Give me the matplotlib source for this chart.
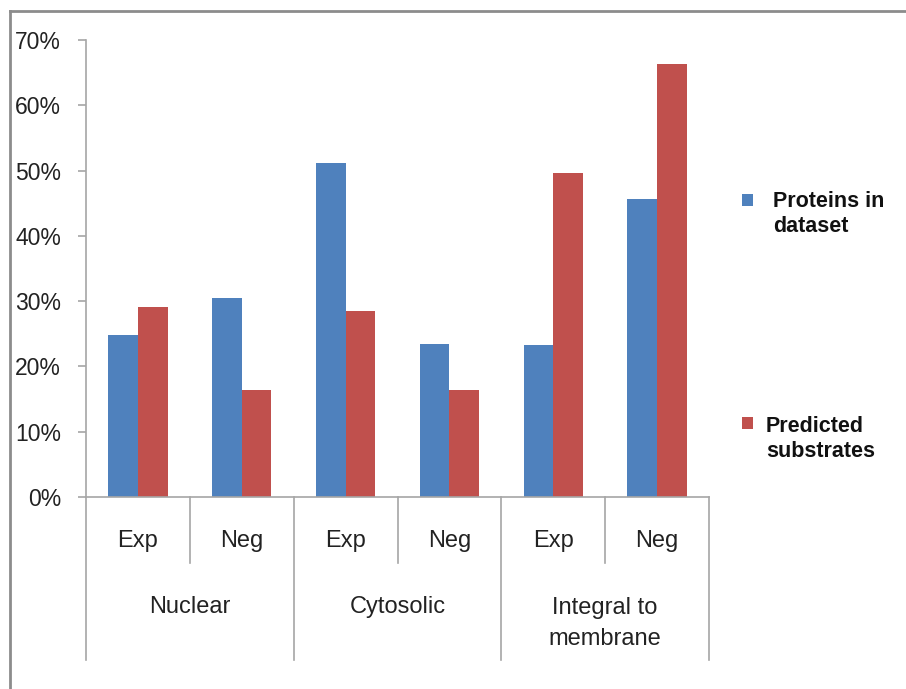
import matplotlib
matplotlib.use("Agg")
import matplotlib.pyplot as plt
from matplotlib.lines import Line2D
from matplotlib.patches import Rectangle
import numpy as np

plt.rcParams['font.family'] = ['Liberation Sans', 'DejaVu Sans']

groups = ["Nuclear", "Cytosolic", "Integral to\nmembrane"]
subcats = ["Exp", "Neg", "Exp", "Neg", "Exp", "Neg"]
series_names = ["Proteins in\ndataset", "Predicted\nsubstrates"]
proteins = [0.248, 0.305, 0.511, 0.234, 0.233, 0.457]
predicted = [0.291, 0.164, 0.285, 0.164, 0.497, 0.663]
yticks = [0, 0.1, 0.2, 0.3, 0.4, 0.5, 0.6, 0.7]
ytick_labels = ["0%", "10%", "20%", "30%", "40%", "50%", "60%", "70%"]

colors = ["#4F81BD", "#C0504D"]
axis_col = "#A6A6A6"
txt_col = "#222222"

W, H = 906, 689
fig = plt.figure(figsize=(W / 100, H / 100), dpi=100)
ax = fig.add_axes([86 / W, 1 - 497 / H, (709 - 86) / W, (497 - 40) / H])

x = np.arange(len(subcats)) + 0.5
bw = 0.285
ax.bar(x - bw / 2, proteins, bw, color=colors[0], linewidth=0)
ax.bar(x + bw / 2, predicted, bw, color=colors[1], linewidth=0)

ax.set_xlim(0, len(subcats))
ax.set_ylim(0, 0.70)
ax.set_yticks(yticks)
ax.set_yticklabels(ytick_labels, fontsize=16.5, color=txt_col)
ax.tick_params(axis='y', length=6, width=1.2, color=axis_col, pad=12)
ax.set_xticks([])
for s in ["top", "right"]:
    ax.spines[s].set_visible(False)
ax.spines["left"].set_visible(False)
ax.spines["bottom"].set_color(axis_col)
ax.spines["bottom"].set_linewidth(1.2)

tr = ax.get_xaxis_transform()
# y axis line extended down through category area
ax.plot([0, 0], [1.0, -0.357], transform=tr, color=axis_col, lw=1.2, clip_on=False)
# sub-category dividers
for i in range(1, len(subcats) + 1):
    if i % 2 == 1:
        ax.plot([i, i], [0, -0.1444], transform=tr, color=axis_col, lw=1.2, clip_on=False)
    else:
        ax.plot([i, i], [0, -0.357], transform=tr, color=axis_col, lw=1.2, clip_on=False)
for xi, lab in zip(x, subcats):
    ax.text(xi, -0.096, lab, transform=tr, ha='center', va='center',
            fontsize=17, color=txt_col)
for gi, g in enumerate(groups):
    ax.text(2 * gi + 1, -0.241 if "\n" not in g else -0.277, g, transform=tr,
            ha='center', va='center', fontsize=17, color=txt_col, linespacing=1.5)

# legend (manual)
leg = [(742, 195, 773, 214), (742, 418, 766, 439)]
for (px, py, tx, ty), c, name in zip(leg, colors, series_names):
    fig.add_artist(Rectangle((px / W, 1 - (py + 11) / H), 11 / W, 12 / H,
                             transform=fig.transFigure, color=c, lw=0))
    fig.text(tx / W, 1 - ty / H, name, ha='left', va='center', fontsize=15.5,
             fontweight='bold', color='#111111', linespacing=1.3)

# outer frame (top and left)
fig.add_artist(Line2D([10 / W, 1], [1 - 11 / H, 1 - 11 / H], transform=fig.transFigure,
                      color="#8C8C8C", lw=2))
fig.add_artist(Line2D([10 / W, 10 / W], [0, 1 - 11 / H], transform=fig.transFigure,
                      color="#8C8C8C", lw=2))

fig.savefig("out.png", dpi=100)
